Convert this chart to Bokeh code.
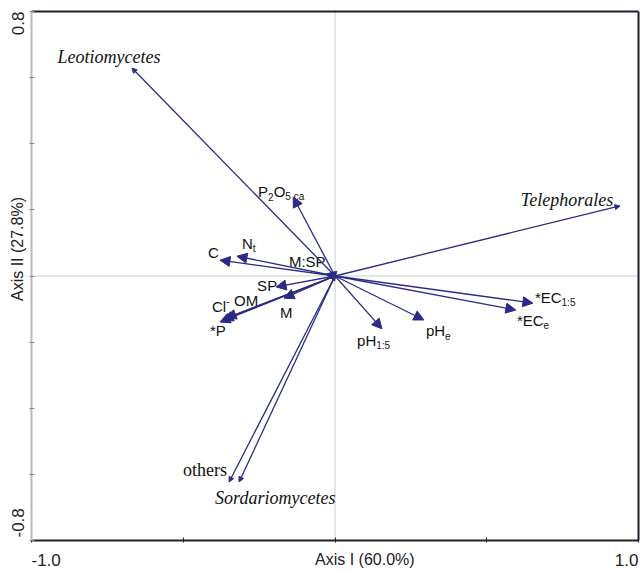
import math
from bokeh.plotting import figure
from bokeh.models import (Arrow, NormalHead, Label, ColumnDataSource,
                          FixedTicker, Range1d, LinearAxis)
from bokeh.core.properties import value
from bokeh.embed import file_html
from bokeh.resources import INLINE

# ---------------- data ----------------
species = ["Leotiomycetes", "Telephorales", "others", "Sordariomycetes"]
species_ax1 = [-0.669, 0.939, -0.349, -0.316]
species_ax2 = [0.629, 0.212, -0.623, -0.623]
species_italic = [True, True, False, True]

variables = ["P2O5ca", "Nt", "C", "M:SP", "SP", "M", "OM", "Cl-", "*P",
             "pH1:5", "pHe", "*EC1:5", "*ECe"]
var_ax1 = [-0.138, -0.323, -0.379, -0.030, -0.194, -0.168, -0.359, -0.369, -0.379,
           0.155, 0.293, 0.652, 0.596]
var_ax2 = [0.239, 0.060, 0.048, 0.006, -0.033, -0.067, -0.127, -0.133, -0.139,
           -0.160, -0.133, -0.082, -0.103]
# label pieces: (text, kind) kind: n = normal, sub = subscript, sup = superscript
var_label_parts = [
    [("P", "n"), ("2", "sub"), ("O", "n"), ("5 ca", "sub")],
    [("N", "n"), ("t", "sub")],
    [("C", "n")],
    [("M:SP", "n")],
    [("SP", "n")],
    [("M", "n")],
    [("OM", "n")],
    [("Cl", "n"), ("-", "sup")],
    [("*P", "n")],
    [("pH", "n"), ("1:5", "sub")],
    [("pH", "n"), ("e", "sub")],
    [("*EC", "n"), ("1:5", "sub")],
    [("*EC", "n"), ("e", "sub")],
]

x_ticks = [-1.0, -0.5, 0.0, 0.5, 1.0]
y_ticks = [-0.8, -0.6, -0.4, -0.2, 0.0, 0.2, 0.4, 0.6, 0.8]
x_tick_labels = {-1.0: "-1.0", 1.0: "1.0"}
y_tick_labels = {-0.8: "-0.8", 0.8: "0.8"}
x_title = "Axis I (60.0%)"
y_title = "Axis II (27.8%)"

# ---------------- styling / layout ----------------
NAVY = "#2b2b85"
DARK = "#1f1f2e"
SANS = "Liberation Sans"
SERIF = "Liberation Serif"
MAIN_SIZE = 15
SUB_SIZE = 10
WIDTH, HEIGHT = 641, 571
ML, MR, MT, MB = 31, 3, 11, 31      # space between plot box and canvas edges (px)

# pixel offsets (right, down) of each label's left edge / middle from its arrow tip
var_label_offset = [(-35, -5), (5, -13), (-12, -8), (-37, -13), (-19, -1), (-4, 14),
                    (8, -17), (-11, -13), (-10, 9), (-25, 12), (2, 11), (2, -6), (1, 10)]
species_label_offset = [(-23, -11, "center"), (-53, -6, "center"),
                        (-2, -12, "right"), (-24, 16, "left")]

W = {'P': .667, 'O': .778, 'N': .722, 'C': .722, 'M': .833, 'S': .667, ':': .278,
     'l': .222, '*': .389, 'E': .667, 'p': .556, 'H': .722, '1': .556, '2': .556,
     '5': .556, ' ': .278, 'c': .5, 'a': .556, 't': .278, 'e': .556, '-': .333}


def text_width(s, size):
    return sum(W.get(ch, 0.55) for ch in s) * size


x0, x1 = x_ticks[0], x_ticks[-1]
y0, y1 = y_ticks[0], y_ticks[-1]
kx = (WIDTH - ML - MR) / (x1 - x0)
ky = (HEIGHT - MT - MB) / (y1 - y0)

p = figure(width=WIDTH, height=HEIGHT,
           x_range=Range1d(x0 - ML / kx, x1 + MR / kx),
           y_range=Range1d(y0 - MB / ky, y1 + MT / ky),
           output_backend="svg", toolbar_location=None,
           x_axis_location=None, y_axis_location=None,
           min_border=0)
p.grid.visible = False
p.outline_line_color = None
p.background_fill_color = "white"
p.border_fill_color = "white"

# box axes drawn at the data limits
bottom = LinearAxis(fixed_location=y0, bounds=(x0, x1), ticker=FixedTicker(ticks=x_ticks),
                    axis_line_color="#222222", axis_line_width=2,
                    major_tick_line_color="#222222", major_tick_in=3, major_tick_out=2,
                    minor_tick_line_color=None,
                    major_label_overrides={t: "" for t in x_ticks})
p.add_layout(bottom, "below")
left = LinearAxis(fixed_location=x0, bounds=(y0, y1), ticker=FixedTicker(ticks=y_ticks),
                  axis_line_color="#b8b8b8", axis_line_width=2,
                  major_tick_line_color="#888888", major_tick_in=3, major_tick_out=2,
                  minor_tick_line_color=None,
                  major_label_overrides={t: "" for t in y_ticks})
p.add_layout(left, "left")
top = LinearAxis(fixed_location=y1, bounds=(x0, x1), ticker=FixedTicker(ticks=[]),
                 axis_line_color=DARK, axis_line_width=2,
                 major_tick_line_color=None, minor_tick_line_color=None)
p.add_layout(top, "above")
right = LinearAxis(fixed_location=x1, bounds=(y0, y1), ticker=FixedTicker(ticks=[]),
                   axis_line_color=DARK, axis_line_width=2,
                   major_tick_line_color=None, minor_tick_line_color=None)
p.add_layout(right, "right")

# dotted origin lines inside the box
p.segment(x0=[0, x0], y0=[y0, 0], x1=[0, x1], y1=[y1, 0],
          line_color="#9a9a9a", line_dash="1 1", line_width=1)

# arrows for variables
var_src = ColumnDataSource(dict(x=var_ax1, y=var_ax2))
p.add_layout(Arrow(end=NormalHead(size=10, fill_color=NAVY, line_color=NAVY, line_width=1),
                   x_start=0, y_start=0, x_end="x", y_end="y", source=var_src,
                   line_color=NAVY, line_width=1.3))
# arrows for species
sp_src = ColumnDataSource(dict(x=species_ax1, y=species_ax2))
p.add_layout(Arrow(end=NormalHead(size=5, fill_color=NAVY, line_color=NAVY, line_width=1),
                   x_start=0, y_start=0, x_end="x", y_end="y", source=sp_src,
                   line_color=NAVY, line_width=1.3))

# variable labels with sub/superscripts
main = dict(x=[], y=[], text=[], xo=[], yo=[])
small = dict(x=[], y=[], text=[], xo=[], yo=[])
for i, parts in enumerate(var_label_parts):
    ox, oy = var_label_offset[i]
    cx = ox
    for txt, kind in parts:
        if kind == "n":
            d, size, shift = main, MAIN_SIZE, 0
        else:
            d, size = small, SUB_SIZE
            shift = 5 if kind == "sub" else -6
        d["x"].append(var_ax1[i])
        d["y"].append(var_ax2[i])
        d["text"].append(txt)
        d["xo"].append(cx)
        d["yo"].append(oy + shift)
        cx += text_width(txt, size)

p.text(x="x", y="y", text="text", x_offset="xo", y_offset="yo",
       source=ColumnDataSource(main), text_font=value(SANS),
       text_font_size=f"{MAIN_SIZE}px", text_color="#111111",
       text_align="left", text_baseline="middle")
p.text(x="x", y="y", text="text", x_offset="xo", y_offset="yo",
       source=ColumnDataSource(small), text_font=value(SANS),
       text_font_size=f"{SUB_SIZE}px", text_color="#111111",
       text_align="left", text_baseline="middle")

# species labels
for i, name in enumerate(species):
    ox, oy, al = species_label_offset[i]
    p.text(x=[species_ax1[i]], y=[species_ax2[i]], text=[name], x_offset=ox, y_offset=oy,
           text_font=value(SERIF), text_font_size="18px",
           text_font_style="italic" if species_italic[i] else "normal",
           text_color="#111111", text_align=al, text_baseline="middle")

# tick labels at the extremes
for v, t in x_tick_labels.items():
    p.add_layout(Label(x=v, y=y0, text=t, y_offset=-19,
                       text_align="left" if v < 0 else "right", text_baseline="middle",
                       text_font=SANS, text_font_size="17px", text_color="#222222"))
for v, t in y_tick_labels.items():
    p.add_layout(Label(x=x0, y=v, text=t, x_offset=-14, y_offset=0 if v > 0 else 3,
                       angle=math.pi / 2,
                       text_align="right" if v > 0 else "left", text_baseline="middle",
                       text_font=SANS, text_font_size="17px", text_color="#222222"))

# axis titles
p.add_layout(Label(x=0.0, y=y0, text=x_title, x_offset=-20, y_offset=-19,
                   text_align="left", text_baseline="middle",
                   text_font=SANS, text_font_size="16px", text_color="#222222"))
p.add_layout(Label(x=x0, y=0.0, text=y_title, x_offset=-14, y_offset=27,
                   angle=math.pi / 2, text_align="center", text_baseline="middle",
                   text_font=SANS, text_font_size="16px", text_color="#222222"))

open("out.html", "w").write(file_html(p, INLINE))
